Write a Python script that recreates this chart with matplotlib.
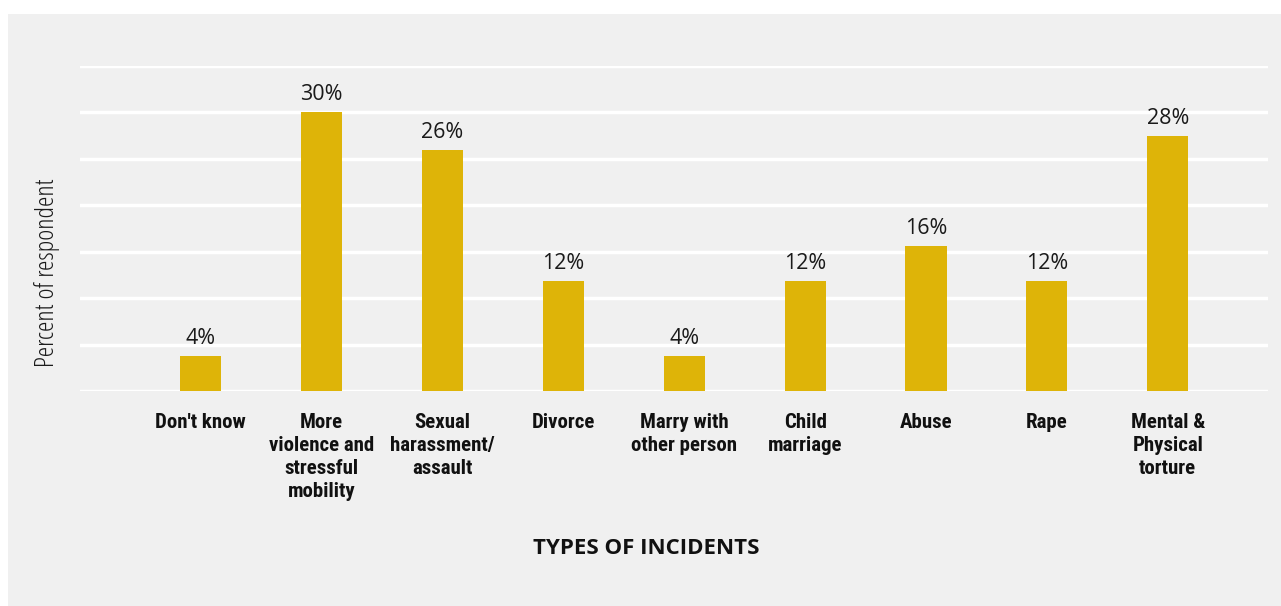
import matplotlib
matplotlib.use("Agg")
import matplotlib.pyplot as plt
from matplotlib.patches import Rectangle

categories = ["Don't know", "More\nviolence and\nstressful\nmobility", "Sexual\nharassment/\nassault",
              "Divorce", "Marry with\nother person", "Child\nmarriage", "Abuse", "Rape",
              "Mental &\nPhysical\ntorture"]
values = [3.8, 30.0, 26.0, 11.8, 3.8, 11.8, 15.6, 11.8, 27.5]
value_labels = ["4%", "30%", "26%", "12%", "4%", "12%", "16%", "12%", "28%"]
yticks = [0, 5, 10, 15, 20, 25, 30, 35]

W, H = 1281, 606
fig = plt.figure(figsize=(W / 100, H / 100), dpi=100)
fig.patch.set_facecolor("white")
fig.add_artist(Rectangle((8 / W, 0), 1 - 8 / W, 1 - 14 / H, transform=fig.transFigure,
                         facecolor="#f0f0f0", edgecolor="none", zorder=0))

ax = fig.add_axes([80 / W, 1 - 391 / H, (1268 - 80) / W, (391 - 66) / H])
ax.set_facecolor("none")
x = list(range(len(categories)))
ax.bar(x, values, width=0.34, color="#deb408", zorder=3)
ax.set_xlim(-1, 8.83)
ax.set_ylim(0, 35)
ax.set_yticks(yticks)
ax.yaxis.grid(True, color="white", linewidth=2.5, zorder=1)
ax.tick_params(axis="y", length=0, labelleft=False)
ax.tick_params(axis="x", length=0, pad=16)
for s in ax.spines.values():
    s.set_visible(False)
ax.set_axisbelow(True)

ax.set_xticks(x)
ax.set_xticklabels(categories, fontsize=15, fontweight="bold",
                   family=["Roboto Condensed", "DejaVu Sans"], color="#111111",
                   linespacing=1.27, va="top")

for xi, v, lab in zip(x, values, value_labels):
    ax.annotate(lab, (xi, v), xytext=(0, 5), textcoords="offset points", ha="center",
                va="bottom", fontsize=15.5, color="#1a1a1a", family="Open Sans",
                fontstretch="semi-condensed")

fig.text(47 / W, 1 - 273 / H, "Percent of respondent", rotation=90, ha="center", va="center",
         fontsize=19, color="#1a1a1a", family="Open Sans", fontstretch="condensed")
fig.text(646 / W, 1 - 549 / H, "TYPES OF INCIDENTS", ha="center", va="center",
         fontsize=16, fontweight="bold", color="#111111", family="Open Sans")

fig.savefig("out.png", dpi=100, facecolor=fig.get_facecolor())
